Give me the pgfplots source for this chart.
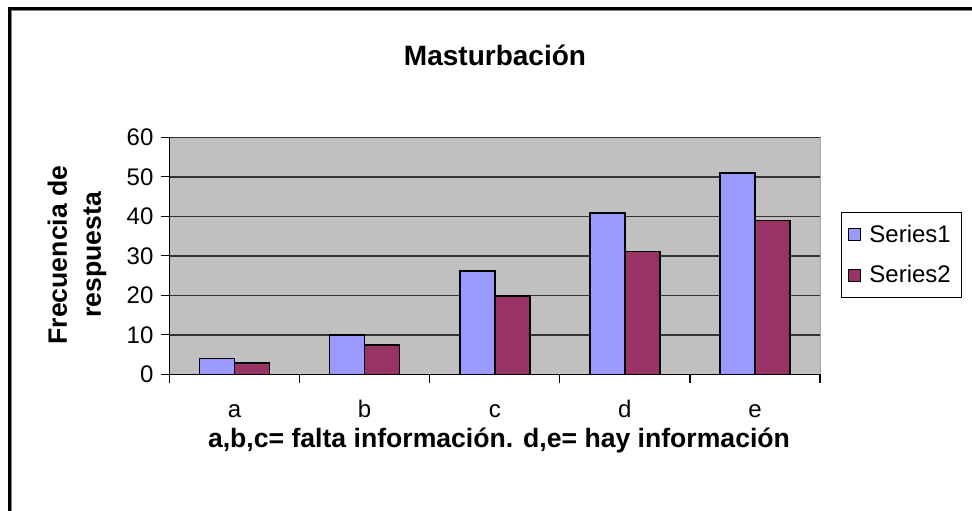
\documentclass[border=0pt]{standalone}
\usepackage{pgfplots}
\pgfplotsset{compat=1.18}
\usepackage{fontspec}
\setmainfont{Liberation Sans}
\definecolor{plotbg}{HTML}{C0C0C0}
\definecolor{sone}{HTML}{9999FF}
\definecolor{stwo}{HTML}{993366}
\begin{document}
\begin{tikzpicture}
\useasboundingbox (0,0) rectangle (486pt,255pt);
\fill[white] (0,0) rectangle (486pt,255pt);
\draw[black, line width=1.5pt] (4.5pt,-2pt) -- (4.5pt,250.75pt) -- (488pt,250.75pt);
\draw[gray, line width=0.5pt] (5.75pt,-2pt) -- (5.75pt,249.5pt) -- (488pt,249.5pt);
\begin{axis}[
  at={(84.75pt,67.85pt)}, anchor=south west,
  scale only axis, width=325.25pt, height=118.5pt,
  xmin=-0.5, xmax=4.5, ymin=0, ymax=60,
  ytick={0,10,...,60},
  xtick={-0.5,0.5,...,4.5},
  x tick label as interval,
  xticklabels={a,b,c,d,e},
  xticklabel style={text height=1.6ex, text depth=0.3ex, yshift=-5pt},
  axis lines=left,
  axis line style={-, black, line width=0.6pt},
  tick align=outside, major tick length=4.5pt,
  tick style={black, line width=0.6pt},
  ymajorgrids, grid style={black!80, line width=0.8pt},
  axis background/.style={fill=plotbg, draw=gray!70},
  ybar=0pt, bar width=17.5pt,
  /pgf/number format/assume math mode=true,
  ticklabel style={font=\fontsize{12}{14}\selectfont},
  legend style={at={(1.032,0.684)}, anchor=north west, draw=black, line width=0.6pt,
    font=\fontsize{12}{14}\selectfont, inner xsep=3.5pt, inner ysep=4pt,
    row sep=6pt, cells={anchor=west}, /tikz/every odd column/.append style={column sep=2pt}},
  legend image code/.code={\draw[#1, draw=black, line width=0.5pt] (0pt,-3pt) rectangle (6pt,3pt);},
]
\addplot[fill=sone, draw=black, line width=0.75pt] coordinates {(0,4) (1,10) (2,26.1) (3,40.9) (4,51)};
\addlegendentry{Series1}
\addplot[fill=stwo, draw=black, line width=0.75pt] coordinates {(0,2.9) (1,7.4) (2,19.8) (3,31.1) (4,38.9)};
\addlegendentry{Series2}
\end{axis}
\node[font=\bfseries\fontsize{14}{17}\selectfont] at (247.5pt,227.5pt) {Masturbación};
\node[font=\bfseries\fontsize{13.3}{17}\selectfont] at (249.5pt,35pt) {a,b,c= falta información. d,e= hay información};
\node[font=\bfseries\fontsize{13.3}{17}\selectfont, rotate=90, align=center] at (38.5pt,127.5pt) {Frecuencia de\\respuesta};
\end{tikzpicture}
\end{document}
